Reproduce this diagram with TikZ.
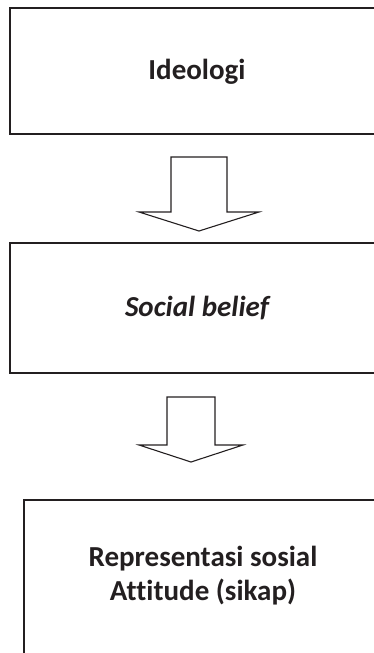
\documentclass[tikz,border=0pt]{standalone}
\usepackage{fontspec}
\setmainfont[Ligatures=NoCommon]{Carlito}
\definecolor{ink}{HTML}{231F20}
\begin{document}
\begin{tikzpicture}[x=1pt,y=-1pt,
  box/.style={draw=ink,line width=1.1pt,inner sep=0pt},
  lbl/.style={font=\fontsize{29}{34}\selectfont\bfseries,text=ink,align=center},
  blockarrow/.style={draw=ink,line width=1.1pt,line join=miter}]
\useasboundingbox (0,0) rectangle (374,653);
\clip (0,0) rectangle (374,653);
% boxes
\draw[box] (10,8) rectangle (384,134);
\node[lbl] (ideologi) at (197,72) {Ideologi};
\draw[box] (10,243) rectangle (384,373);
\node[lbl] (belief) at (197,308) {\itshape Social belief};
\draw[box] (24,500) rectangle (384,670);
\node[lbl] (repr) at (203,576) {Representasi sosial\\Attitude (sikap)};
% arrows
\coordinate (a1) at (199,157);
\draw[blockarrow] ([xshift=-28pt]a1) -- ++(0,55) -- ++(-32,0) -- (199,231) -- (259,212) -- ++(-32,0) -- ([xshift=28pt]a1) -- cycle;
\coordinate (a2) at (191,397);
\draw[blockarrow] ([xshift=-24pt]a2) -- ++(0,48) -- ++(-28,0) -- (191,462) -- (243,445) -- ++(-28,0) -- ([xshift=24pt]a2) -- cycle;
\end{tikzpicture}
\end{document}
